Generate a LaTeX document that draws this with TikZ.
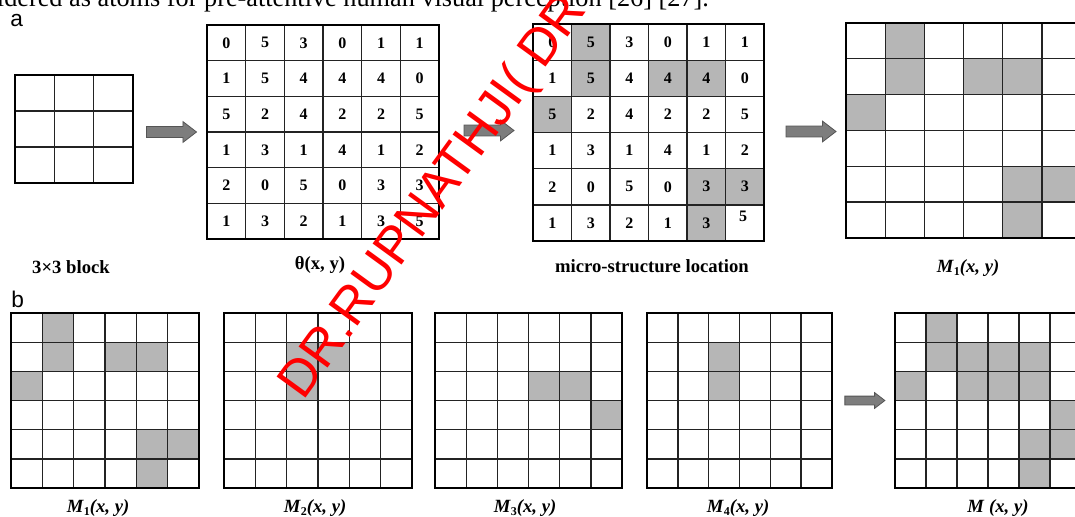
\documentclass[tikz,border=0pt]{standalone}
\usepackage{fontspec}
\setmainfont{Liberation Serif}
\newfontfamily\sansf{Liberation Sans}
\usetikzlibrary{shapes.arrows}
\definecolor{cellgray}{RGB}{182,182,182}
\definecolor{arrowgray}{RGB}{125,125,125}
\definecolor{arrowedge}{RGB}{85,85,85}
\definecolor{gridline}{RGB}{35,35,35}
\definecolor{wmred}{RGB}{255,0,0}
\tikzset{
  gridln/.style={draw=gridline, line width=1pt},
  gridframe/.style={draw=black, line width=1.6pt},
  num/.style={font=\bfseries\fontsize{12}{12}\selectfont, inner sep=0pt},
  lbl/.style={font=\bfseries\fontsize{14}{16}\selectfont, inner sep=0pt},
  blockarrow/.style={single arrow, draw=arrowedge, fill=arrowgray, line width=0.6pt,
     inner xsep=0pt, single arrow tip angle=75, single arrow head indent=0pt},
  bigarrow/.style={blockarrow, minimum height=37.5pt, inner ysep=3.75pt, single arrow head extend=3.75pt},
  smallarrow/.style={blockarrow, minimum height=30pt, inner ysep=3pt, single arrow head extend=2.6pt},
  panel/.style={font=\sansf\fontsize{17}{17}\selectfont, inner sep=0pt, anchor=base west},
}
% grid lines: x0, y0, cell width, cell height, n
\newcommand\gridlinesxy[5]{%
  \pgfmathtruncatemacro\gnm{#5-1}%
  \foreach \i in {1,...,\gnm} {
    \draw[gridln] ({#1+\i*#3},#2) -- ({#1+\i*#3},{#2+#5*#4});
    \draw[gridln] (#1,{#2+\i*#4}) -- ({#1+#5*#3},{#2+\i*#4});
  }
  \draw[gridframe] (#1,#2) rectangle ({#1+#5*#3},{#2+#5*#4});
}
% shaded cells: x0, y0, cw, ch, list of col/row
\newcommand\shadecells[5]{%
  \foreach \c/\r in {#5} {
    \fill[cellgray] ({#1+\c*#3},{#2+\r*#4}) rectangle ({#1+(\c+1)*#3},{#2+(\r+1)*#4});
  }
}
\newcommand\gridvalues[6]{% name, x0, y0, cw, ch, rows
  \foreach \rowvals [count=\r from 0] in {#6} {
    \foreach \v [count=\c from 0] in \rowvals {
      \node[num] (#1-\r-\c) at ({#2+(\c+0.5)*#4},{#3+(\r+0.5)*#5}) {\v};
    }
  }
}
\newcommand\Mlab[1]{\textit{M}\raisebox{-0.35ex}{\fontsize{9}{9}\selectfont #1}\textit{(x, y)}}

\begin{document}
\begin{tikzpicture}[x=0.75pt,y=-0.75pt]
\useasboundingbox (0,0) rectangle (1075,517);
\clip (0,0) rectangle (1075,517);
\fill[white] (0,0) rectangle (1075,517);

% top line of running text
\node[inner sep=0pt, anchor=base west, font=\fontsize{19.7}{20}\selectfont] (runtext) at (4,7)
  {\llap{consi}dered as atoms for pre-attentive human visual perception [26] [27].};

% panel labels
\node[panel] (pa) at (10,27) {a};
\node[panel] (pb) at (11,307) {b};

% ---------- row a ----------
% 3x3 block
\gridlinesxy{15}{75}{39.33}{36}{3}
\node[lbl] (lblk) at (71,267) {3×3 block};

% theta grid
\gridlinesxy{207}{25}{38.67}{35.67}{6}
\gridvalues{th}{207}{25}{38.67}{35.67}{{0,5,3,0,1,1},{1,5,4,4,4,0},{5,2,4,2,2,5},{1,3,1,4,1,2},{2,0,5,0,3,3},{1,3,2,1,3,5}}
\node[lbl] (lth) at (320,265) {θ(x, y)};

% micro-structure grid
\shadecells{533}{24}{38.5}{36.17}{1/0,1/1,3/1,4/1,0/2,4/4,5/4,4/5}
\gridlinesxy{533}{24}{38.5}{36.17}{6}
\gridvalues{ms}{533}{24}{38.5}{36.17}{{0,5,3,0,1,1},{1,5,4,4,4,0},{5,2,4,2,2,5},{1,3,1,4,1,2},{2,0,5,0,3,3},{1,3,2,1,3}}
\node[num] (ms-5-5) at (743,216) {5};
\node[lbl] (lms) at (652,266) {micro-structure location};

% M1 grid (top)
\shadecells{846}{23}{39.2}{35.83}{1/0,1/1,3/1,4/1,0/2,4/4,5/4,4/5}
\gridlinesxy{846}{23}{39.2}{35.83}{6}
\node[lbl] (lm1t) at (968,268) {\Mlab{1}};

% arrows row a
\node[bigarrow] (a1) at (168,132) {};
\node[bigarrow] (a2) at (485.5,130.5) {};
\node[bigarrow] (a3) at (807.5,131.5) {};

% ---------- row b ----------
\shadecells{11}{313}{31.33}{29.17}{1/0,1/1,3/1,4/1,0/2,4/4,5/4,4/5}
\gridlinesxy{11}{313}{31.33}{29.17}{6}
\node[lbl] (lm1) at (98,508) {\Mlab{1}};

\shadecells{224}{313}{31.33}{29.17}{2/1,3/1,2/2}
\gridlinesxy{224}{313}{31.33}{29.17}{6}
\node[lbl] (lm2) at (315,508) {\Mlab{2}};

\shadecells{435}{313}{31.17}{29.17}{3/2,4/2,5/3}
\gridlinesxy{435}{313}{31.17}{29.17}{6}
\node[lbl] (lm3) at (525,508) {\Mlab{3}};

\shadecells{647}{313}{30.83}{29.17}{2/1,2/2}
\gridlinesxy{647}{313}{30.83}{29.17}{6}
\node[lbl] (lm4) at (738,508) {\Mlab{4}};

\node[smallarrow] (a4) at (862,400.5) {};

\shadecells{895}{313}{31}{29.17}{1/0,1/1,2/1,3/1,4/1,0/2,2/2,3/2,4/2,5/3,4/4,5/4,4/5}
\gridlinesxy{895}{313}{31}{29.17}{6}
\node[lbl] (lm) at (998,508) {\textit{M} \textit{(x, y)}};

% watermark
\node[inner sep=0pt, anchor=base west, rotate=54, text=wmred,
      font=\sansf\fontsize{39}{39}\selectfont] (wm) at (303,402) {DR.RUPNATHJI( DR};
\end{tikzpicture}
\end{document}
